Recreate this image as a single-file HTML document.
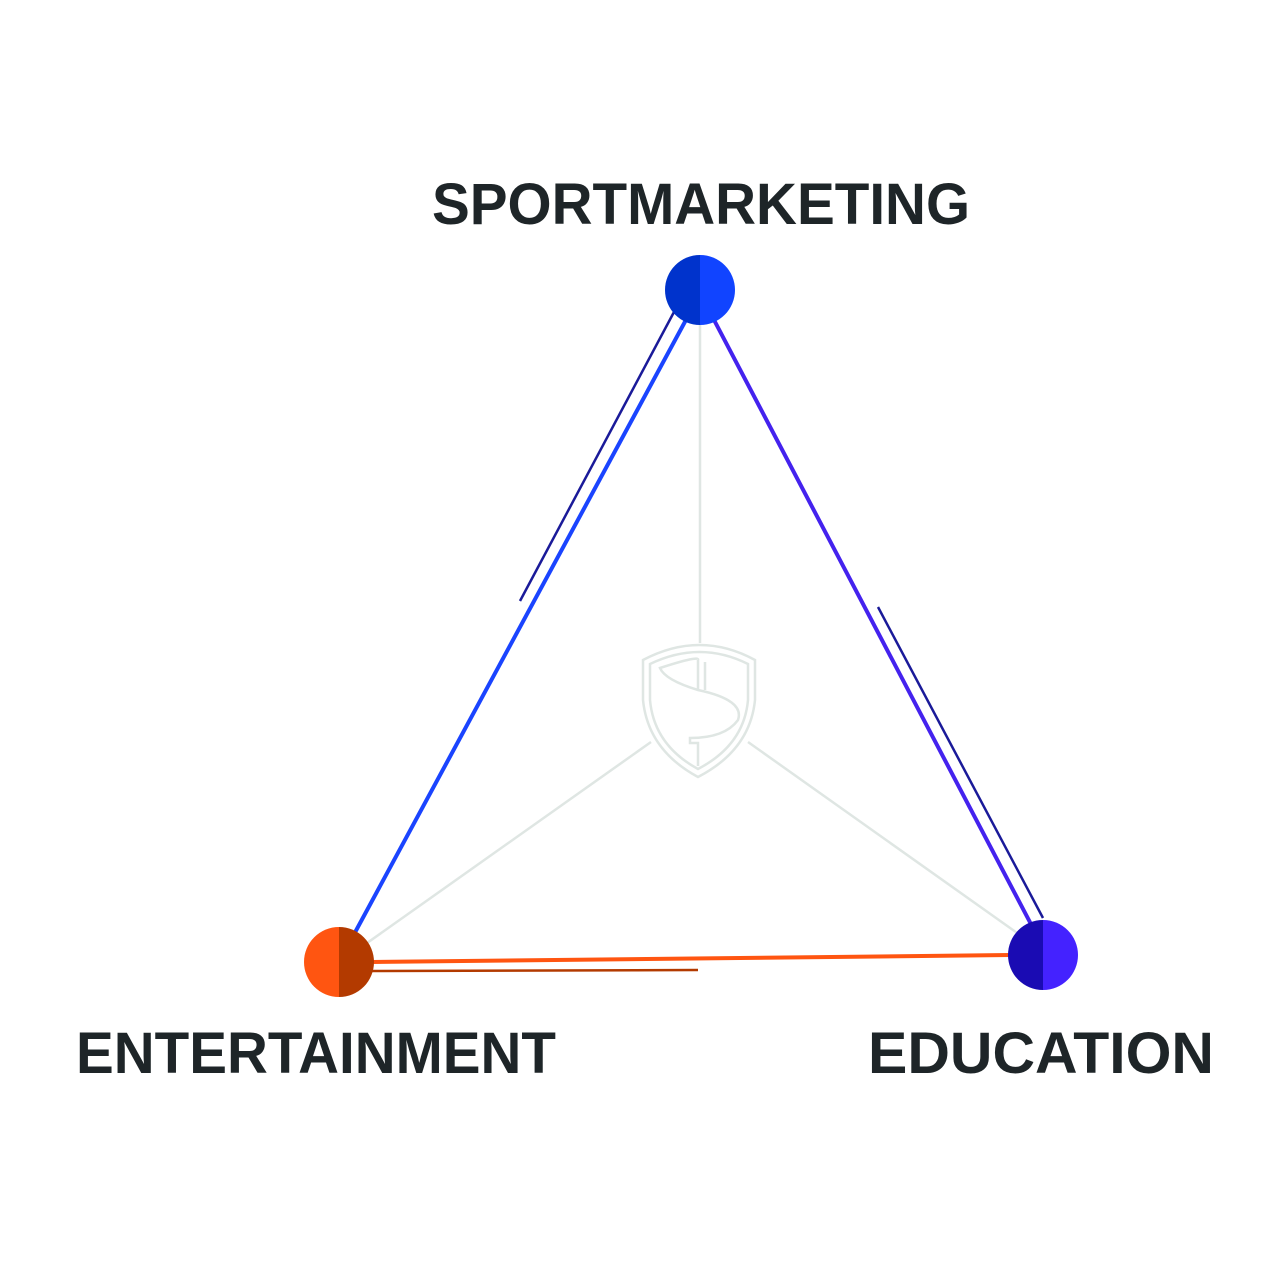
<!DOCTYPE html>
<html><head><meta charset="utf-8"><style>
html,body{margin:0;padding:0;background:#fff;}
svg{display:block;}
text{font-family:"Liberation Sans",sans-serif;font-weight:bold;fill:#1e2528;}
</style></head><body>
<svg width="1280" height="1280" viewBox="0 0 1280 1280" xmlns="http://www.w3.org/2000/svg">
<rect width="1280" height="1280" fill="#fff"/>
<!-- gray inner lines -->
<g stroke="#dfe6e3" stroke-width="2.5" fill="none">
<line x1="700" y1="320" x2="700" y2="643"/>
<line x1="651" y1="742" x2="360" y2="948"/>
<line x1="748" y1="742" x2="1020" y2="935"/>
<!-- shield -->
<path d="M643,660 Q700,630 755,660 L755,700 Q750,750 698,777 Q648,750 643,700 Z"/>
<path d="M650,664 Q700,640 748,664 L748,700 Q744,745 698,769 Q654,745 650,700 Z"/>
<path d="M698,660 L698,690 Q665,680 660,668 Q700,655 698,660 M698,690 Q745,700 738,720 Q725,738 690,738 L690,743 L698,743 L698,766 M705,662 L705,690"/>
</g>
<!-- colored edges -->
<line x1="687" y1="318" x2="352" y2="938" stroke="#1a44ff" stroke-width="4"/>
<line x1="674" y1="312" x2="520" y2="601" stroke="#1a1a99" stroke-width="2.5"/>
<line x1="713" y1="318" x2="1033" y2="928" stroke="#4422ee" stroke-width="4"/>
<line x1="878" y1="607" x2="1043" y2="918" stroke="#1a1a99" stroke-width="2.5"/>
<line x1="372" y1="962" x2="1010" y2="955" stroke="#ff5511" stroke-width="4"/>
<line x1="372" y1="971" x2="698" y2="970" stroke="#b33a00" stroke-width="2.5"/>
<!-- nodes -->
<path d="M700,255 A35,35 0 0,0 700,325 Z" fill="#0033cc"/>
<path d="M700,255 A35,35 0 0,1 700,325 Z" fill="#1144ff"/>
<path d="M339,927 A35,35 0 0,0 339,997 Z" fill="#ff5511"/>
<path d="M339,927 A35,35 0 0,1 339,997 Z" fill="#b33a00"/>
<path d="M1043,920 A35,35 0 0,0 1043,990 Z" fill="#1a0bb3"/>
<path d="M1043,920 A35,35 0 0,1 1043,990 Z" fill="#4422ff"/>
<!-- labels -->
<text x="432" y="224" font-size="58" textLength="538" lengthAdjust="spacingAndGlyphs">SPORTMARKETING</text>
<text x="76" y="1073" font-size="58" textLength="480" lengthAdjust="spacingAndGlyphs">ENTERTAINMENT</text>
<text x="868" y="1073" font-size="58" textLength="346" lengthAdjust="spacingAndGlyphs">EDUCATION</text>
</svg>
</body></html>
